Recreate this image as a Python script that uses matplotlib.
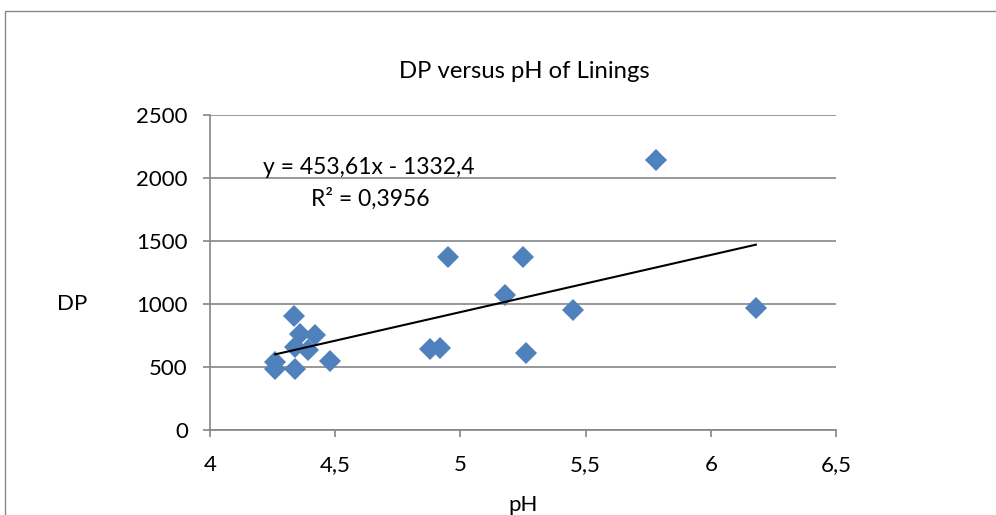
import matplotlib
matplotlib.use("Agg")
import matplotlib.pyplot as plt
from matplotlib.patches import Rectangle
from matplotlib.ticker import FuncFormatter, MultipleLocator

plt.rcParams['font.family'] = ['Lato', 'DejaVu Sans']

# Lining pH and DP measurements
ph = [4.335, 4.36, 4.42, 4.34, 4.39, 4.26, 4.26, 4.34, 4.48,
      4.88, 4.92, 4.95, 5.18, 5.25, 5.26, 5.45, 5.78, 6.18]
dp = [905, 762, 754, 659, 635, 540, 484, 484, 548,
      643, 651, 1370, 1071, 1373, 611, 955, 2143, 968]

# Linear trendline parameters
slope = 453.61
intercept = -1332.4
r_squared = 0.3956

title = "DP versus pH of Linings"
x_label = "pH"
y_label = "DP"

grid_col = "#868686"
marker_col = "#4F81BD"
fs = 16

fig = plt.figure(figsize=(9.96, 5.15), dpi=100)
# chart-area frame, running off the right and bottom edges
fig.patches.append(Rectangle((5 / 996, -0.2), 1.2, 1.2 - 11 / 515,
                             transform=fig.transFigure, fill=False,
                             edgecolor=grid_col, linewidth=1.0))
ax = fig.add_axes([210 / 996, 85 / 515, 626 / 996, 315 / 515])

ax.set_xlim(4, 6.5)
ax.set_ylim(0, 2500)
ax.xaxis.set_major_locator(MultipleLocator(0.5))
ax.yaxis.set_major_locator(MultipleLocator(500))

comma = FuncFormatter(lambda v, p: f"{v:g}".replace(".", ","))
ax.xaxis.set_major_formatter(comma)
ax.yaxis.set_major_formatter(comma)

ax.grid(axis='y', color=grid_col, linewidth=1.2)
ax.set_axisbelow(True)
for s in ('top', 'right'):
    ax.spines[s].set_visible(False)
for s in ('left', 'bottom'):
    ax.spines[s].set_color(grid_col)
    ax.spines[s].set_linewidth(1.2)
ax.tick_params(axis='both', colors=grid_col, labelcolor='black',
               labelsize=fs, length=5, width=1.2)
ax.tick_params(axis='x', pad=13)
ax.tick_params(axis='y', pad=11)

ax.plot(ph, dp, linestyle='none', marker='D', markersize=11,
        color=marker_col, markeredgewidth=0, zorder=3)

x0, x1 = min(ph), max(ph)
ax.plot([x0, x1], [slope * x0 + intercept, slope * x1 + intercept],
        color='black', linewidth=1.5, zorder=4)

eq = f"y = {slope:.2f}x - {abs(intercept):.1f}".replace(".", ",")
r2 = f"R² = {r_squared:.4f}".replace(".", ",")
fig.text(369 / 996, 1 - 167 / 515, eq, ha='center', va='center', fontsize=fs + 0.5)
fig.text(370 / 996, 1 - 199 / 515, r2, ha='center', va='center', fontsize=fs + 0.5)

fig.text(524 / 996, 1 - 72 / 515, title, ha='center', va='center', fontsize=fs + 1.2)
fig.text(72 / 996, 1 - 304 / 515, y_label, ha='center', va='center', fontsize=fs)
fig.text(523 / 996, 1 - 505 / 515, x_label, ha='center', va='center', fontsize=fs)

fig.savefig("out.png", dpi=100)
